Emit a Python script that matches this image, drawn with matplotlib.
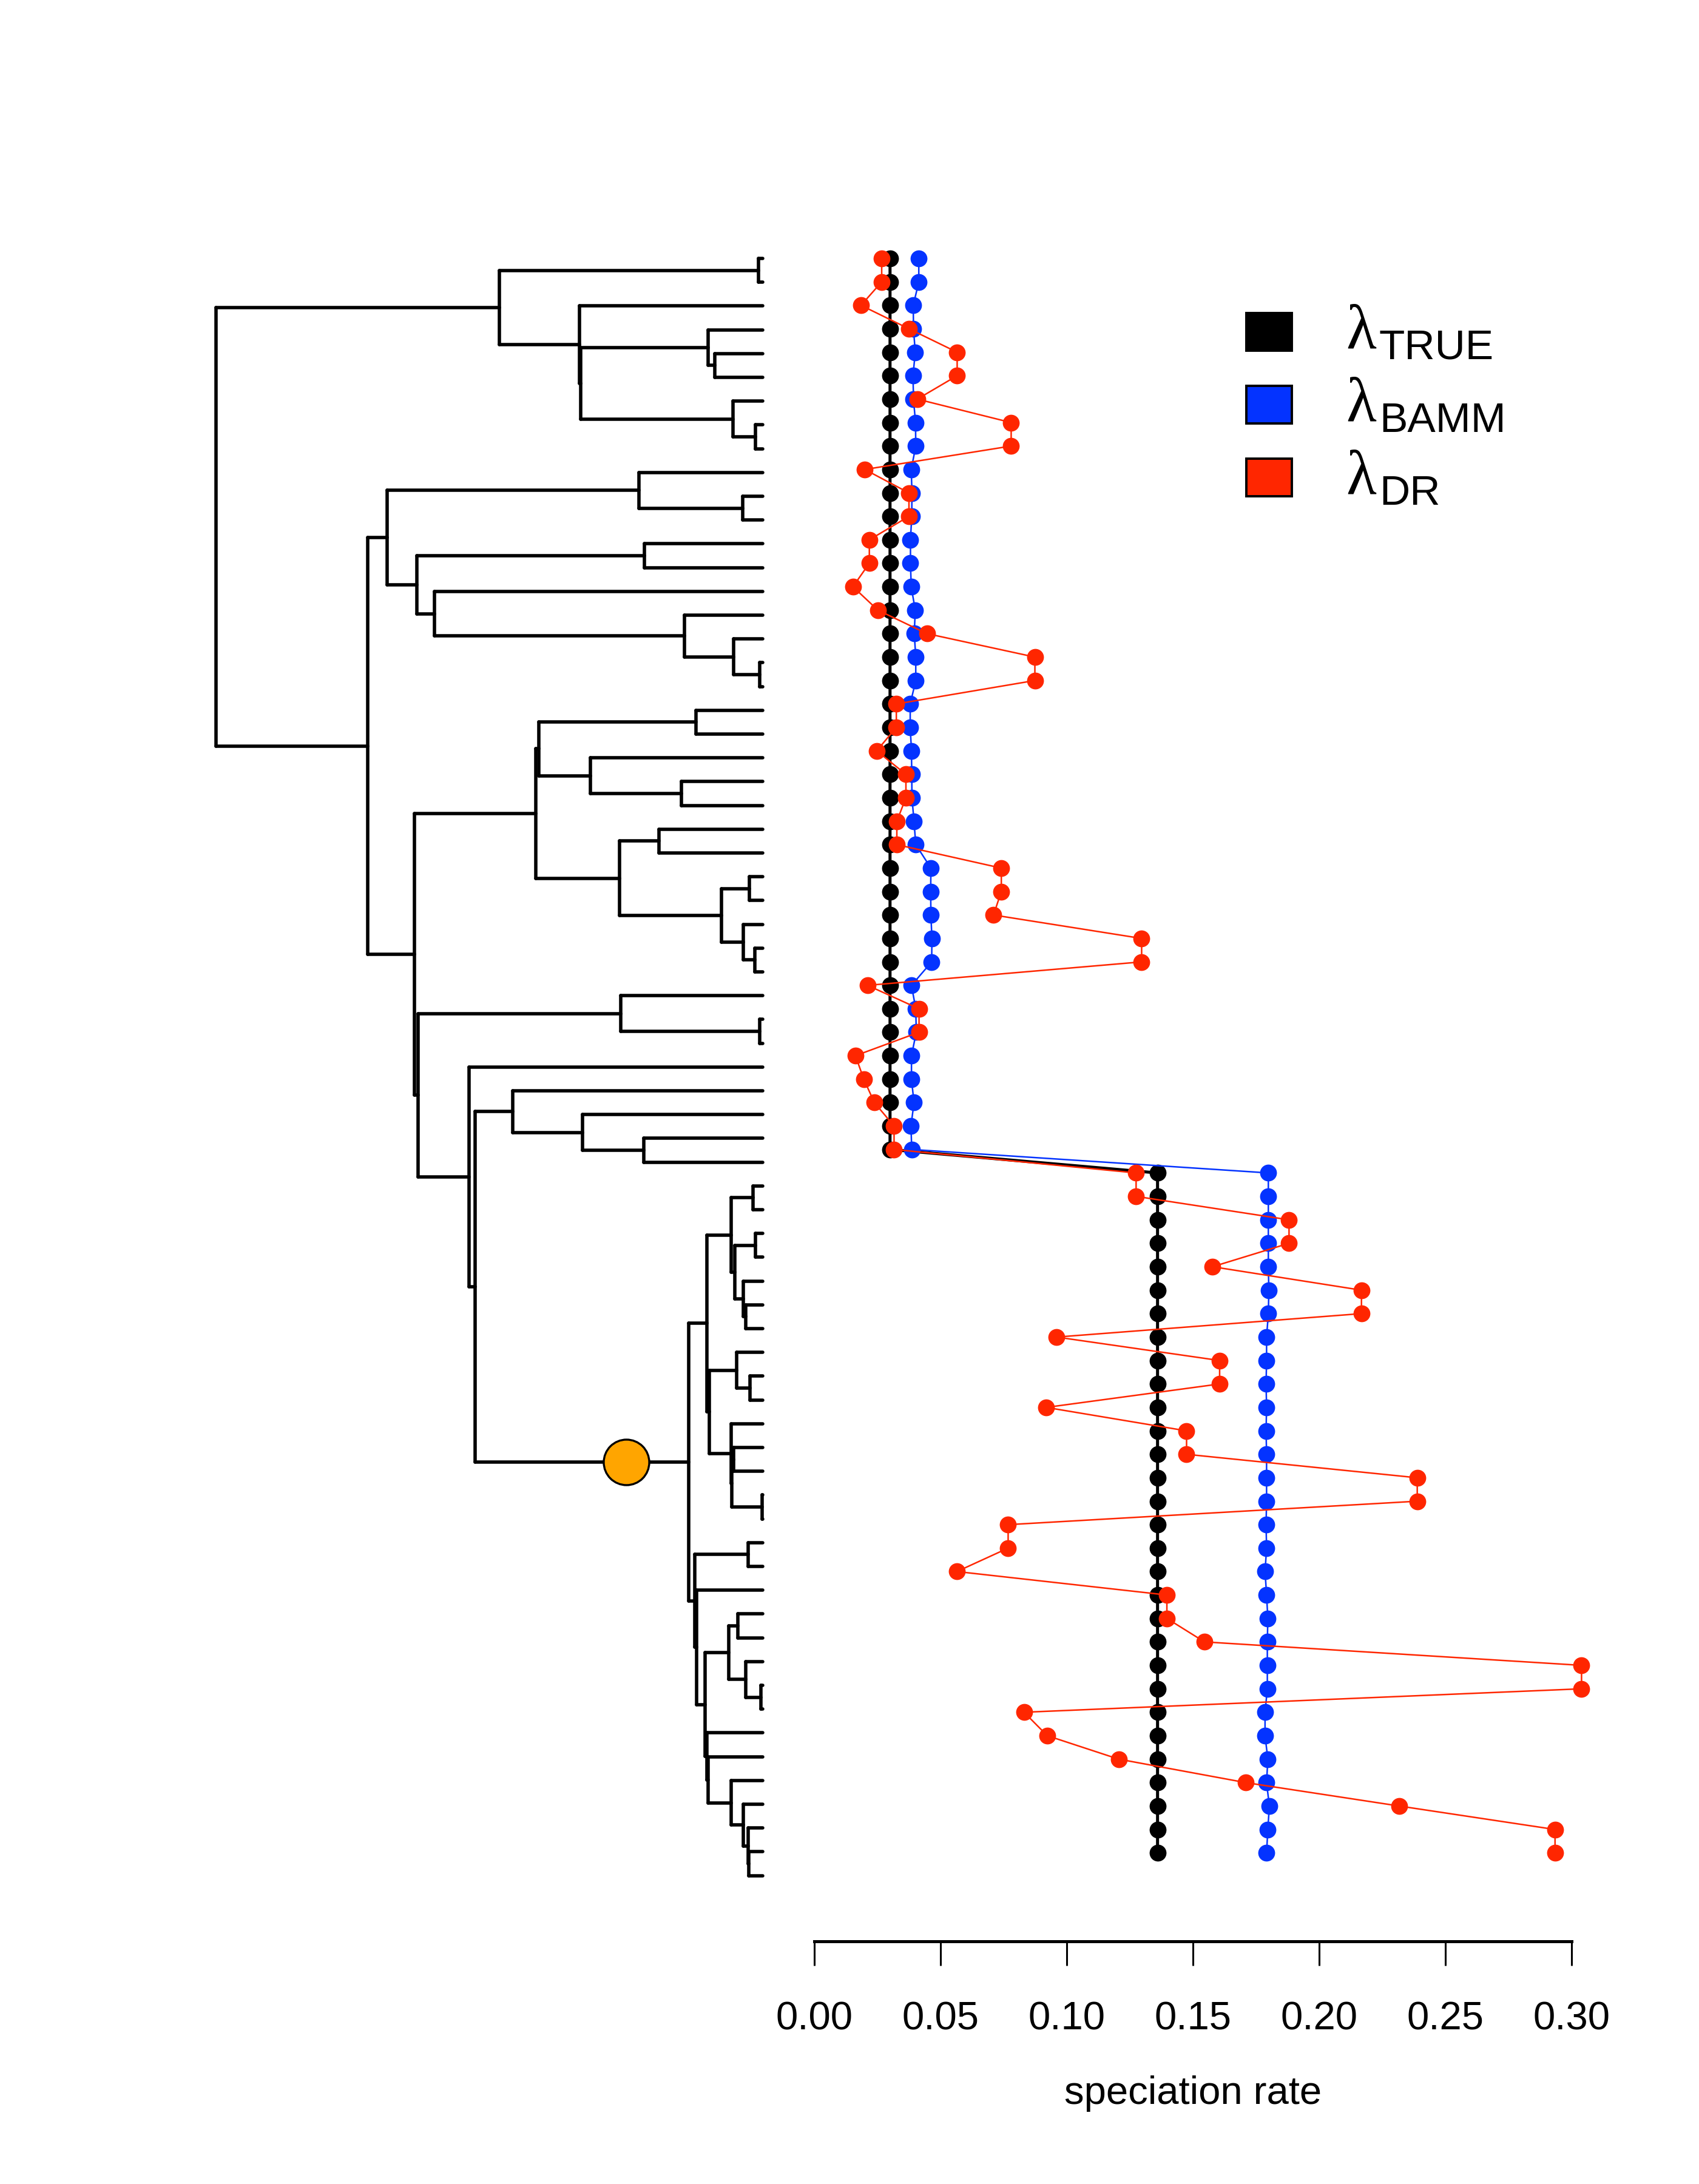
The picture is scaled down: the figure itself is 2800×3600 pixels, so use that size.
import numpy as np
import matplotlib
matplotlib.use('Agg')
import matplotlib.pyplot as plt
from matplotlib.collections import LineCollection
from matplotlib.patches import Rectangle

plt.rcParams['font.family'] = ['Liberation Sans', 'DejaVu Sans']

# tree: internal node labels are node depths (root = 0, tips = 1)
top_clade = "((t1,t2)0.992,(t3,((t4,(t5,t6)0.912)0.900,(t7,(t8,t9)0.987)0.946)0.667)0.665)0.518"
clade_h = "((t10,(t11,t12)0.963)0.774,((t13,t14)0.784,(t15,(t16,(t17,(t18,t19)0.994)0.947)0.857)0.400)0.367)0.313"
clade_r = "(((t20,t21)0.878,(t22,(t23,t24)0.851)0.685)0.590,((t25,t26)0.810,((t27,t28)0.976,(t29,(t30,t31)0.985)0.964)0.925)0.738)0.585"
shift_up = ("(((t40,t41)0.982,((t42,t43)0.987,(t44,(t45,t46)0.969)0.964)0.949)0.942,"
            "((t47,(t48,t49)0.977)0.952,(t50,((t51,t52)0.947,(t53,t54)0.999)0.943)0.942)0.902)0.898")
shift_low = ("((t55,t56)0.973,(t57,(((t58,t59)0.955,(t60,(t61,t62)0.997)0.969)0.938,"
             "(t63,(t64,(t65,(t66,(t67,(t68,t69)0.975)0.973)0.964)0.942)0.900)0.898)0.895)0.879)0.876")
clade_s = ("((t32,(t33,t34)0.994)0.740,(t35,((t36,(t37,(t38,t39)0.782)0.670)0.543,("
           + shift_up + "," + shift_low + ")0.865)0.474)0.463)0.370")
newick = "(" + top_clade + ",(" + clade_h + ",(" + clade_r + "," + clade_s + ")0.363)0.277)0.0;"

shift_tips = ("t40", "t69")
shift_depth = 0.75

# speciation rates per tip, top to bottom
lam_true = [0.030, 0.030, 0.030, 0.030, 0.030, 0.030, 0.030, 0.030, 0.030, 0.030,
            0.030, 0.030, 0.030, 0.030, 0.030, 0.030, 0.030, 0.030, 0.030, 0.030,
            0.030, 0.030, 0.030, 0.030, 0.030, 0.030, 0.030, 0.030, 0.030, 0.030,
            0.030, 0.030, 0.030, 0.030, 0.030, 0.030, 0.030, 0.030, 0.030,
            0.136, 0.136, 0.136, 0.136, 0.136, 0.136, 0.136, 0.136, 0.136, 0.136,
            0.136, 0.136, 0.136, 0.136, 0.136, 0.136, 0.136, 0.136, 0.136, 0.136,
            0.136, 0.136, 0.136, 0.136, 0.136, 0.136, 0.136, 0.136, 0.136, 0.136]
lam_bamm = [0.0414, 0.0414, 0.0392, 0.0393, 0.0400, 0.0391, 0.0393, 0.0401, 0.0402, 0.0384,
            0.0387, 0.0386, 0.0381, 0.0381, 0.0384, 0.0400, 0.0396, 0.0402, 0.0402, 0.0380,
            0.0380, 0.0385, 0.0386, 0.0387, 0.0395, 0.0402, 0.0462, 0.0461, 0.0462, 0.0466,
            0.0465, 0.0385, 0.0402, 0.0404, 0.0385, 0.0385, 0.0395, 0.0383, 0.0386,
            0.1799, 0.1799, 0.1799, 0.1799, 0.1799, 0.1801, 0.1799, 0.1792, 0.1792, 0.1790,
            0.1792, 0.1790, 0.1792, 0.1792, 0.1792, 0.1790, 0.1792, 0.1786, 0.1792, 0.1797,
            0.1795, 0.1795, 0.1795, 0.1786, 0.1786, 0.1797, 0.1792, 0.1803, 0.1797, 0.1792]
lam_dr = [0.0267, 0.0267, 0.0185, 0.0375, 0.0566, 0.0566, 0.0408, 0.0780, 0.0780, 0.0200,
          0.0375, 0.0375, 0.0218, 0.0218, 0.0153, 0.0252, 0.0446, 0.0874, 0.0874, 0.0325,
          0.0325, 0.0247, 0.0363, 0.0363, 0.0327, 0.0327, 0.0741, 0.0741, 0.0710, 0.1297,
          0.1297, 0.0211, 0.0415, 0.0415, 0.0163, 0.0196, 0.0238, 0.0316, 0.0316,
          0.1275, 0.1275, 0.1881, 0.1881, 0.1578, 0.2168, 0.2168, 0.0960, 0.1606, 0.1606,
          0.0919, 0.1475, 0.1475, 0.2389, 0.2389, 0.0768, 0.0768, 0.0565, 0.1397, 0.1397,
          0.1546, 0.3040, 0.3040, 0.0831, 0.0923, 0.1206, 0.1709, 0.2318, 0.2935, 0.2935]

xticks = [0.00, 0.05, 0.10, 0.15, 0.20, 0.25, 0.30]
legend_names = ['TRUE', 'BAMM', 'DR']
col_true = 'black'
col_bamm = '#0433FF'
col_dr = '#FF2600'


def read_node(s, i):
    if s[i] == '(':
        kids = []
        i += 1
        while True:
            kid, i = read_node(s, i)
            kids.append(kid)
            if s[i] == ',':
                i += 1
            else:
                i += 1
                break
        j = i
        while s[j] not in ',);':
            j += 1
        return {'depth': float(s[i:j]), 'kids': kids}, j
    j = i
    while s[j] not in ',);':
        j += 1
    return {'name': s[i:j], 'depth': 1.0, 'kids': []}, j


def place(node, counter):
    if not node['kids']:
        counter[0] += 1
        node['y'] = counter[0]
        node['tips'] = {node['name']}
        return
    for k in node['kids']:
        place(k, counter)
    node['y'] = (node['kids'][0]['y'] + node['kids'][-1]['y']) / 2.0
    node['tips'] = set().union(*[k['tips'] for k in node['kids']])


def segments(node, segs):
    if not node['kids']:
        return
    d = node['depth']
    segs.append([(d, node['kids'][0]['y']), (d, node['kids'][-1]['y'])])
    for k in node['kids']:
        segs.append([(d, k['y']), (k['depth'], k['y'])])
        segments(k, segs)


def mrca(node, a, b):
    for k in node['kids']:
        if a in k['tips'] and b in k['tips']:
            return mrca(k, a, b)
    return node


root, _ = read_node(newick, 0)
place(root, [0])
segs = []
segments(root, segs)

W, H = 2800.0, 3600.0
fig = plt.figure(figsize=(14, 18), dpi=200)

# tree panel
ax1 = fig.add_axes([300 / W, 1 - 3150 / H, 1000 / W, 2770 / H])
ax1.add_collection(LineCollection(segs, colors='black', linewidths=2.0, capstyle='round'))
node = mrca(root, shift_tips[0], shift_tips[1])
ax1.plot(shift_depth, node['y'], 'o', ms=27, mfc='#FFA500', mec='black', mew=1.2, zorder=3)
ax1.set_xlim(-0.0622, 1.0477)
ax1.set_ylim(70.49, -0.1735)
ax1.axis('off')

# rates panel
rows = np.arange(1, len(lam_true) + 1)
ax2 = fig.add_axes([1300 / W, 1 - 3200 / H, 1400 / W, 2820 / H])
ax2.plot(lam_true, rows, '-o', color=col_true, lw=1.8, ms=9, clip_on=False)
ax2.plot(lam_bamm, rows, '-o', color=col_bamm, lw=0.9, ms=9, clip_on=False)
ax2.plot(lam_dr, rows, '-o', color=col_dr, lw=0.9, ms=9, clip_on=False)
ax2.set_xlim(-0.0101, 0.3265)
ax2.set_ylim(72.77, -0.19)
for side in ['top', 'right', 'left']:
    ax2.spines[side].set_visible(False)
ax2.spines['bottom'].set_bounds(0, 0.3)
ax2.spines['bottom'].set_linewidth(1.8)
ax2.set_yticks([])
ax2.set_xticks(xticks)
ax2.set_xticklabels(['%.2f' % v for v in xticks])
ax2.tick_params(axis='x', direction='out', length=14.4, width=1.1, pad=21, labelsize=23.5)
ax2.patch.set_visible(False)

fig.text(1966 / W, 1 - 3468 / H, 'speciation rate', ha='center', va='baseline', fontsize=23.5)

# legend
for i, (name, col) in enumerate(zip(legend_names, [col_true, col_bamm, col_dr])):
    top = 516 + 120 * i
    fig.add_artist(Rectangle((2054 / W, 1 - (top + 62) / H), 75 / W, 62 / H,
                             transform=fig.transFigure, facecolor=col,
                             edgecolor='black', linewidth=1.4))
    fig.text(2218 / W, 1 - (573 + 120 * i) / H, u'\u03bb', ha='left', va='baseline',
             fontsize=37, family=['Liberation Serif', 'DejaVu Serif'])
    fig.text(2273 / W, 1 - (592 + 120 * i) / H, name, ha='left', va='baseline', fontsize=25)

fig.savefig('out.png', dpi=200)
plt.close(fig)
